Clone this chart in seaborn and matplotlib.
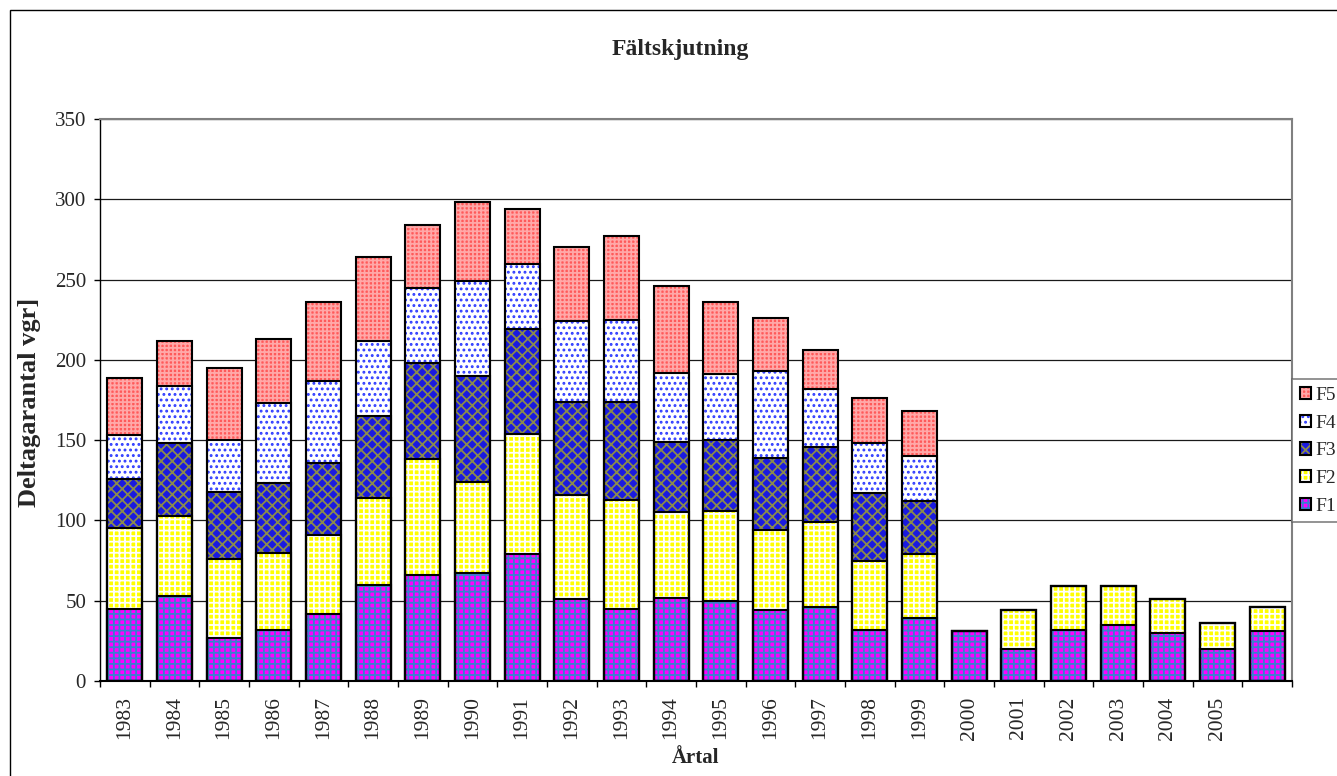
import pandas as pd
import matplotlib
matplotlib.use("Agg")
import matplotlib.pyplot as plt
import matplotlib.patches as mpatches
from matplotlib.legend_handler import HandlerTuple
import seaborn as sns

# values (participants per class and year)
years = ['1983', '1984', '1985', '1986', '1987', '1988', '1989', '1990',
         '1991', '1992', '1993', '1994', '1995', '1996', '1997', '1998',
         '1999', '2000', '2001', '2002', '2003', '2004', '2005', '']
f1 = [45, 53, 27, 32, 42, 60, 66, 67, 79, 51, 45, 52, 50, 44, 46, 32,
      39, 31, 20, 32, 35, 30, 20, 31]
f2 = [50, 50, 49, 48, 49, 54, 72, 57, 75, 65, 68, 53, 56, 50, 53, 43,
      40, 0, 24, 27, 24, 21, 16, 15]
f3 = [31, 45, 42, 43, 45, 51, 60, 66, 65, 58, 61, 44, 44, 45, 47, 42,
      33, 0, 0, 0, 0, 0, 0, 0]
f4 = [27, 36, 32, 50, 51, 47, 47, 59, 41, 50, 51, 43, 41, 54, 36, 31,
      28, 0, 0, 0, 0, 0, 0, 0]
f5 = [36, 28, 45, 40, 49, 52, 39, 49, 34, 46, 52, 54, 45, 33, 24, 28,
      28, 0, 0, 0, 0, 0, 0, 0]
series_names = ['F1', 'F2', 'F3', 'F4', 'F5']

# face colour, hatch colour, hatch pattern
styles = {
    'F1': ('#ff00ff', '#3a7fd0', '+++'),
    'F2': ('#ffff00', '#ffffff', '+++'),
    'F3': ('#1a1ae0', '#8a8a4c', 'xxx'),
    'F4': ('#ffffff', '#2f3cff', '...'),
    'F5': ('#ff5a5a', '#ffa8a8', '++++'),
}


def main():
    sns.set_theme(style='white')
    plt.rcParams['font.family'] = ['Liberation Serif', 'DejaVu Serif']
    plt.rcParams['hatch.linewidth'] = 1.3

    df = pd.DataFrame({'year': years, 'F1': f1, 'F2': f2, 'F3': f3,
                       'F4': f4, 'F5': f5})
    # cumulative sums for stacked bars
    cum = df[series_names].cumsum(axis=1)
    cum['year'] = df['year']

    fig = plt.figure(figsize=(13.37, 7.76), dpi=100)
    ax = fig.add_axes([100 / 1337, 1 - 681 / 776, 1192 / 1337, 562 / 776])

    outlines = []
    for name in reversed(series_names):
        fc, hc, hatch = styles[name]
        n0 = len(ax.patches)
        sns.barplot(data=cum, x='year', y=name, order=years, color=fc,
                    saturation=1, width=0.7, errorbar=None, ax=ax)
        for p in ax.patches[n0:]:
            p.set_edgecolor(hc)
            p.set_linewidth(0)
            p.set_hatch(hatch)
            outlines.append(p)
    for p in outlines:
        ax.add_patch(mpatches.Rectangle(p.get_xy(), p.get_width(), p.get_height(),
                                        fill=False, edgecolor='black', lw=1.5,
                                        zorder=p.get_zorder() + 0.01))

    ax.set_ylim(0, 350)
    ax.set_xlim(-0.5, len(years) - 0.5)
    ax.set_yticks(range(0, 351, 50))
    ax.yaxis.grid(True, color='#1a1a1a', lw=0.9)
    ax.set_axisbelow(True)

    ax.set_xticks(range(len(years)))
    ax.set_xticklabels(years, rotation=90, va='top', ha='center')
    ax.set_xticks([i - 0.5 for i in range(len(years) + 1)], minor=True)
    ax.tick_params(axis='x', which='major', length=0, pad=11, labelsize=15.5)
    ax.tick_params(axis='x', which='minor', length=4.5, width=1, color='black',
                   direction='out', bottom=True)
    ax.tick_params(axis='y', which='major', length=4, width=1, color='black',
                   direction='out', left=True, pad=6, labelsize=15)

    ax.set_xlabel('')
    ax.set_ylabel('')
    for side in ['top', 'right']:
        ax.spines[side].set_color('#808080')
        ax.spines[side].set_linewidth(1.5)
    ax.spines['left'].set_color('black')
    ax.spines['left'].set_linewidth(1)
    ax.spines['bottom'].set_color('black')
    ax.spines['bottom'].set_linewidth(1.5)

    fig.text(680 / 1337, 1 - 49 / 776, 'Fältskjutning', ha='center', va='center',
             fontsize=17, fontweight='bold')
    fig.text(696 / 1337, 1 - 758 / 776, 'Årtal', ha='center', va='center',
             fontsize=15, fontweight='bold')
    fig.text(30 / 1337, 1 - 402 / 776, 'Deltagarantal vgr]', ha='center',
             va='center', rotation=90, fontsize=19, fontweight='bold')

    # legend, top series first
    handles = []
    for name in reversed(series_names):
        fc, hc, hatch = styles[name]
        h1 = mpatches.Patch(facecolor=fc, edgecolor=hc, hatch=hatch, lw=0)
        h2 = mpatches.Patch(fill=False, edgecolor='black', lw=1.5)
        handles.append((h1, h2))
    leg = fig.legend(handles, list(reversed(series_names)), loc='upper left',
                     bbox_to_anchor=(1292 / 1337, 1 - 379 / 776),
                     handler_map={tuple: HandlerTuple(ndivide=1)},
                     fontsize=14, frameon=True, fancybox=False,
                     edgecolor='#606060', borderpad=0.4, labelspacing=0.55,
                     handlelength=0.6, handleheight=0.6, handletextpad=0.2,
                     borderaxespad=0)
    leg.get_frame().set_linewidth(1.2)

    # outer chart border
    fig.add_artist(mpatches.Rectangle((10 / 1337, -0.1), 1.2, 1.1 - 10 / 776,
                                      transform=fig.transFigure, fill=False,
                                      edgecolor='black', lw=1))

    fig.savefig('out.png', dpi=100)


if __name__ == "__main__":
    main()
